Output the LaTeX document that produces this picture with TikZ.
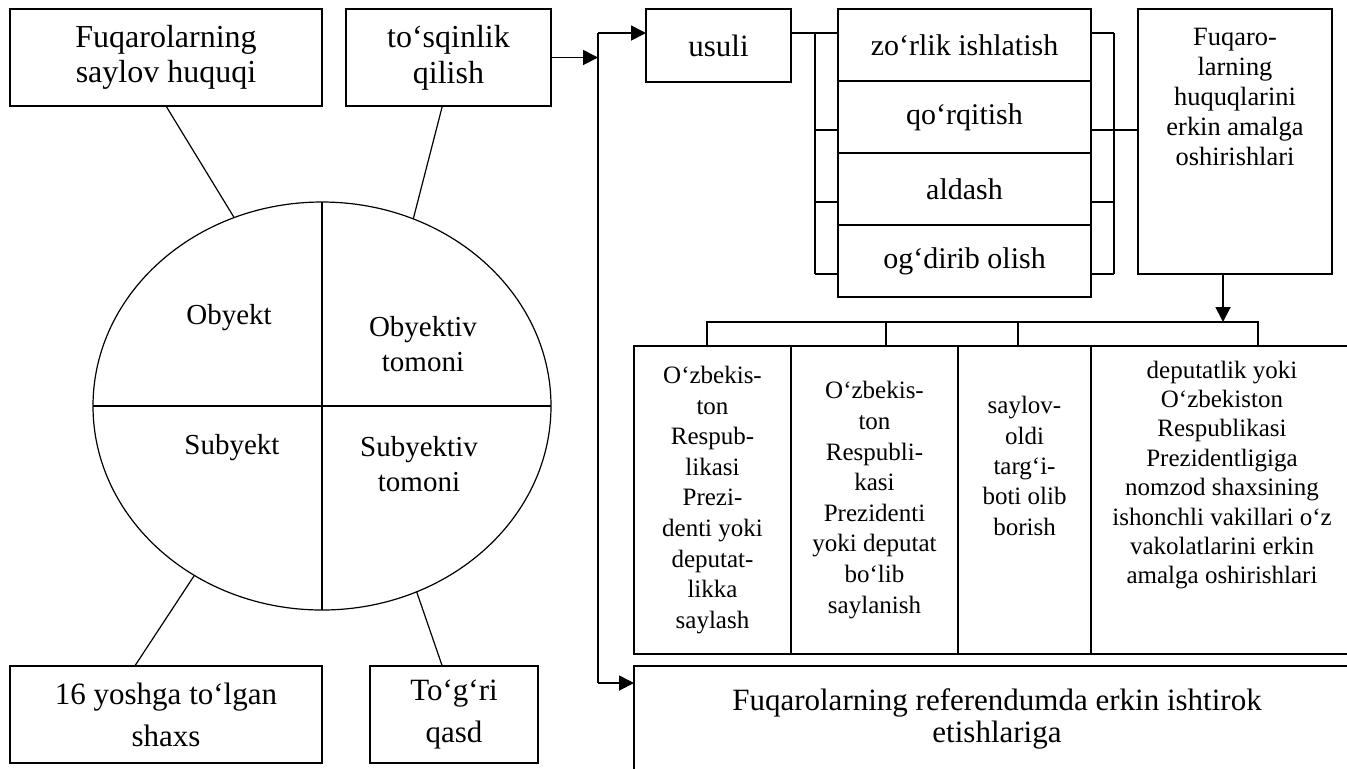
\documentclass[tikz,border=0pt]{standalone}
\usepackage{fontspec}
\setmainfont{Liberation Serif}
\usetikzlibrary{arrows.meta,positioning,shapes.geometric,calc}

\begin{document}
\begin{tikzpicture}[x=0.5pt,y=-0.5pt,
  box/.style={draw, line width=0.6pt, inner sep=0pt, outer sep=0pt, align=center},
  top/.style={box, minimum height=48.5pt, font=\fontsize{16}{17.8}\selectfont},
  way/.style={box, minimum width=126.5pt, minimum height=36pt, font=\fontsize{15}{17}\selectfont},
  col/.style={box, line width=0.75pt, minimum height=154pt},
  coltext/.style={align=center, font=\fontsize{12.5}{15.2}\selectfont},
  part/.style={align=center, font=\fontsize{14.5}{17.8}\selectfont},
  arr/.style={-{Triangle[length=7.5pt,width=7.5pt]}, line width=0.9pt},
  ln/.style={line width=0.6pt}]

  \useasboundingbox (0,0) rectangle (1347,768);

  % Top boxes
  \node[top, minimum width=156pt] (huquq) at (166,57.5) {Fuqarolarning\\saylov huquqi};
  \node[top, minimum width=102.5pt] (tosq) at (448.5,57.5) {to‘sqinlik\\qilish};

  % Ellipse with four parts
  \node[draw, ellipse, line width=0.6pt, inner sep=0pt, outer sep=0pt,
        minimum width=229pt, minimum height=204pt] (ell) at (322,406) {};
  \draw[ln] (ell.north) -- (ell.south);
  \draw[ln] (ell.west) -- (ell.east);
  \node[part] (obj) at (229,318) {Obyekt};
  \node[part] (objt) at (423,344) {Obyektiv\\tomoni};
  \node[part] (sub) at (232,448) {Subyekt};
  \node[part] (subt) at (419,464) {Subyektiv\\tomoni};

  % Bottom boxes
  \node[top, minimum width=156pt, font=\fontsize{15.5}{21}\selectfont] (yosh) at (166,714.5) {16 yoshga to‘lgan\\shaxs};
  \node[top, minimum width=84pt, font=\fontsize{15.5}{21}\selectfont] (qasd) at (454,714.5) {To‘g‘ri\\qasd};

  \draw[ln] (huquq.south) -- (ell.115);
  \draw[ln] ($(tosq.south west)!0.47!(tosq.south east)$) -- (ell.64);
  \draw[ln] (ell.233) -- ($(yosh.north west)!0.4!(yosh.north east)$);
  \draw[ln] (ell.297) -- ($(qasd.north west)!0.43!(qasd.north east)$);

  % Trunk line
  \coordinate (trtop) at (598,33);
  \coordinate (trbot) at (598,683);
  \draw[arr] (tosq.east) -- (tosq.east -| trtop);
  \draw[line width=0.9pt] (trtop) -- (trbot);

  % Ways
  \node[box, minimum width=72.5pt, minimum height=36.5pt, font=\fontsize{15.5}{17}\selectfont] (usuli) at (718.5,45.5) {usuli};
  \draw[arr] (trtop) -- (trtop -| usuli.west);

  \node[way] (w1) at (964.5,45) {zo‘rlik ishlatish};
  \node[way, below=0pt of w1] (w2) {qo‘rqitish};
  \node[way, below=0pt of w2] (w3) {aldash};
  \node[way, below=0pt of w3] (w4) {og‘dirib olish};
  \draw[ln] (trtop -| usuli.east) -- (trtop -| w1.west);

  % Brackets
  \draw[ln] (815,33) -- (815,274);
  \draw[ln] (1114,33) -- (1114,274);
  \foreach \y in {33,130,202,274} {
    \draw[ln] (815,\y) -- (0,\y -| w1.west);
    \draw[ln] (1114,\y) -- (0,\y -| w1.east);
  }

  \node[box, minimum width=97pt, minimum height=132.5pt] (fq) at (1235,141.5) {};
  \node[align=center, font=\fontsize{13.2}{14.9}\selectfont] (fqtxt) at (1235,97)
    {Fuqaro-\\larning\\huquqlarini\\erkin amalga\\oshirishlari};
  \draw[ln] (1114,130) -- (0,130 -| fq.west);

  % Down to the columns
  \coordinate (dn) at (1223,322);
  \draw[arr] (dn |- fq.south) -- (dn);
  \draw[ln] (707,346) -- (707,322) -- (1258,322) -- (1258,346);
  \foreach \x in {886,1018}
    \draw[ln] (\x,322) -- (\x,346);

  \node[col, minimum width=78.5pt, font=\fontsize{12.5}{15.3}\selectfont] (c1) at (712.5,500)
    {O‘zbekis-\\ton\\Respub-\\likasi\\Prezi-\\denti yoki\\deputat-\\likka\\saylash};
  \node[col, minimum width=83.5pt, right=0pt of c1, font=\fontsize{12.5}{15.3}\selectfont] (c2)
    {O‘zbekis-\\ton\\Respubli-\\kasi\\Prezidenti\\yoki deputat\\bo‘lib\\saylanish};
  \node[col, minimum width=66.5pt, right=0pt of c2] (c3) {};
  \node[col, minimum width=131pt, right=0pt of c3] (c4) {};
  \node[coltext] (c3txt) at (1024.5,466) {saylov-\\oldi\\targ‘i-\\boti olib\\borish};
  \node[coltext, font=\fontsize{12.5}{14.7}\selectfont] (c4txt) at (1222,475)
    {deputatlik yoki\\O‘zbekiston\\Respublikasi\\Prezidentligiga\\nomzod shaxsining\\ishonchli vakillari o‘z\\vakolatlarini erkin\\amalga oshirishlari};

  % Referendum
  \node[box, line width=0.75pt, minimum width=363pt, minimum height=67pt] (ref) at (997,733) {};
  \node[align=center, font=\fontsize{15.5}{15.9}\selectfont] (reftxt) at (997,719)
    {Fuqarolarning referendumda erkin ishtirok\\etishlariga};
  \draw[arr] (trbot) -- (trbot -| ref.west);

\end{tikzpicture}
\end{document}
